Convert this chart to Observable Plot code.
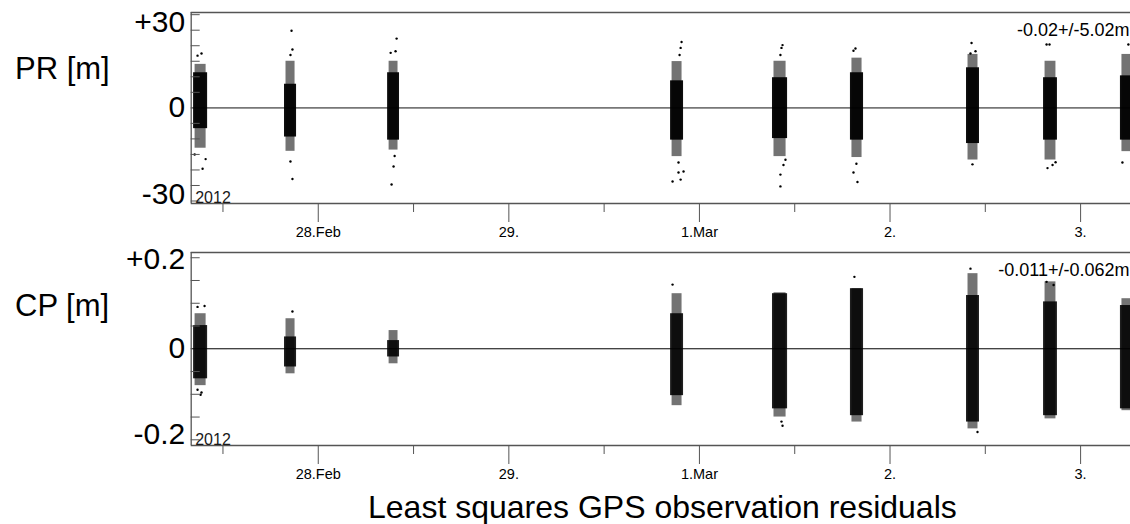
<!DOCTYPE html>
<html>
<head>
<meta charset="utf-8">
<script src="https://cdn.jsdelivr.net/npm/d3@7"></script>
<script src="https://cdn.jsdelivr.net/npm/@observablehq/plot@0.6"></script>
<style>
  body { margin: 0; background: #fff; font-family: "Liberation Sans", Arial, sans-serif; }
  #wrap { position: relative; width: 1130px; height: 524px; overflow: hidden; background: #fff; }
  .panel { position: absolute; left: 0; }
  .ylab { position: absolute; left: 15px; font-size: 31px; line-height: 35px; white-space: nowrap; color: #000; }
  #title { position: absolute; left: 368px; top: 489px; font-size: 32px; line-height: 36px; white-space: nowrap; color: #000; }
</style>
</head>
<body>
<div id="wrap">
  <div class="panel" id="top" style="top:0px"></div>
  <div class="panel" id="bottom" style="top:240px"></div>
  <div class="ylab" style="top:51px">PR [m]</div>
  <div class="ylab" style="top:288px">CP [m]</div>
  <div id="title">Least squares GPS observation residuals</div>
</div>
<script>
// ---- time axis ----
const xDomain = ["2012-02-27T08:00Z", "2012-03-03T06:17Z"];
const majorTicks = ["2012-02-28T00:00Z", "2012-02-29T00:00Z", "2012-03-01T00:00Z", "2012-03-02T00:00Z", "2012-03-03T00:00Z"];
const majorLabels = ["28.Feb", "29.", "1.Mar", "2.", "3."];
const minorTicks = ["2012-02-27T12:00Z", "2012-02-28T12:00Z", "2012-02-29T12:00Z", "2012-03-01T12:00Z", "2012-03-02T12:00Z"];
const yearLabel = "2012";

// ---- satellite passes (observation windows) ----
const passStart = ["2012-02-27T08:18Z", "2012-02-27T19:45Z", "2012-02-28T08:44Z", "2012-02-29T20:22Z", "2012-03-01T09:12Z", "2012-03-01T19:01Z", "2012-03-02T09:38Z", "2012-03-02T19:20Z", "2012-03-03T05:01Z"];
const passEnd   = ["2012-02-27T10:04Z", "2012-02-27T21:16Z", "2012-02-28T10:14Z", "2012-02-29T22:00Z", "2012-03-01T11:06Z", "2012-03-01T20:40Z", "2012-03-02T11:16Z", "2012-03-02T21:05Z", "2012-03-03T06:47Z"];

// ---- pseudorange (PR) residuals, metres ----
const prDomain = [-30.8, 30.7];
const prTicks = [-30, -25, -20, -15, -10, -5, 5, 10, 15, 20, 25, 30];
const prLabelValues = [30, 0, -30];
const prLabelTexts = ["+30", "0", "-30"];
const prStat = "-0.02+/-5.02m";
const prCoreLow  = [-6.7, -9.4, -10.4, -10.4, -9.9, -10.4, -11.5, -10.4, -10.4];
const prCoreHigh = [11.3, 7.6, 11.3, 8.7, 9.7, 11.3, 12.9, 9.7, 10.3];
const prTailLow  = [-13, -14, -13.6, -15.7, -15.7, -16, -16.8, -16.8, -14.1];
const prTailHigh = [14, 15, 15, 14.9, 15, 16, 17.2, 15, 17.2];
const prOutPass   = [0,0,0,0,0, 1,1,1,1,1, 2,2,2,2,2,2, 3,3,3,3,3,3,3,3, 4,4,4,4,4,4,4, 5,5,5,5,5, 6,6,6,6, 7,7,7,7,7, 8,8];
const prOutMinute = [60,30,91,68,8, 53,60,45,60,45, 68,23,60,45,30,53, 83,76,68,15,76,60,98,60, 76,68,60,60,60,83,98, 38,23,23,53,45, 38,68,30,45, 23,45,30,68,91, 15,60];
const prOutValue  = [17.5,16.8,-16.5,-19.6,-15, 24.8,18.8,17,-22.9,-17.3, 22.3,17.7,18.2,-18.9,-24.7,-15.5, 21.2,19.3,17,-23.7,-23.1,-20.8,-20.5,-17.6, 20.2,19.3,17,-25.3,-21.5,-18.4,-16.7, 19.1,18.4,-20.8,-23.9,-18, 20.9,18.2,17.5,-18.2, 20.4,20.4,-19.4,-18.4,-17.5, -17.6,20.4];

// ---- carrier phase (CP) residuals, metres ----
const cpDomain = [-0.2125, 0.2115];
const cpTicks = [-0.2, -0.15, -0.1, -0.05, 0.05, 0.1, 0.15, 0.2];
const cpLabelValues = [0.2, 0, -0.2];
const cpLabelTexts = ["+0.2", "0", "-0.2"];
const cpStat = "-0.011+/-0.062m";
const cpCoreLow  = [-0.066, -0.040, -0.018, -0.103, -0.132, -0.147, -0.161, -0.147, -0.132];
const cpCoreHigh = [0.051, 0.026, 0.018, 0.077, 0.121, 0.132, 0.117, 0.103, 0.095];
const cpTailLow  = [-0.081, -0.055, -0.033, -0.125, -0.150, -0.161, -0.176, -0.154, -0.136];
const cpTailHigh = [0.077, 0.066, 0.040, 0.121, 0.123, 0.132, 0.165, 0.147, 0.110];
const cpOutPass   = [0,0,0,0,0, 1, 3, 4,4, 5, 6,6, 7,7];
const cpOutMinute = [30,83,30,53,60, 60, 15, 68,76, 30, 83,30, 23,76];
const cpOutValue  = [0.092,0.094,-0.090,-0.101,-0.096, 0.082, 0.141, -0.160,-0.169, 0.158, -0.183,0.176, 0.147,0.14];

// ---- build tables ----
const passes = (low, high, tlow, thigh) => passStart.map((s, i) => ({
  start: new Date(s), end: new Date(passEnd[i]),
  coreLow: low[i], coreHigh: high[i], tailLow: tlow[i], tailHigh: thigh[i]
}));
const outliers = (p, m, v) => p.map((pi, i) => ({
  time: new Date(new Date(passStart[pi]).getTime() + m[i] * 60000), value: v[i]
}));
const labelByTime = new Map(majorTicks.map((t, i) => [+new Date(t), majorLabels[i]]));

function panel({passData, outData, domain, ticks, labelValues, labelTexts, labelOffsets, stat, zeroStroke, zeroWidth, coreOpacity, marginBottom}) {
  const xd = xDomain.map(d => new Date(d));
  return Plot.plot({
    width: 1130, height: 240,
    marginLeft: 190.7, marginRight: 0, marginTop: 12, marginBottom,
    style: {fontFamily: "Liberation Sans, Arial, sans-serif", fontSize: "14.5px", color: "#000", background: "#fff", overflow: "visible"},
    x: {type: "utc", domain: xd},
    y: {domain},
    marks: [
      Plot.ruleY([0], {stroke: zeroStroke, strokeWidth: zeroWidth}),
      // tail (sparser) part of each pass
      Plot.rect(passData, {x1: "start", x2: "end", y1: "tailLow", y2: "tailHigh", fill: "#000", fillOpacity: 0.55, insetLeft: 1.5, insetRight: 1.5, clip: true}),
      // dense core
      Plot.rect(passData, {x1: "start", x2: "end", y1: "coreLow", y2: "coreHigh", fill: "#000", fillOpacity: coreOpacity, clip: true}),
      Plot.dot(outData, {x: "time", y: "value", r: 1.2, fill: "#000", stroke: null, clip: true}),
      // frame (top, bottom, left)
      Plot.ruleY([domain[1]], {stroke: "#555", strokeWidth: 1.3}),
      Plot.ruleY([domain[0]], {stroke: "#555", strokeWidth: 1.3}),
      Plot.ruleX([xd[0]], {stroke: "#555", strokeWidth: 1.3}),
      // inward y ticks
      Plot.axisY({ticks, tickSize: 9, dx: 9, tickFormat: () => "", stroke: "#555", label: null}),
      // x ticks
      Plot.axisX({ticks: majorTicks.map(d => new Date(d)), tickSize: 19, tickPadding: 4, tickFormat: d => labelByTime.get(+d), stroke: "#555", fill: "#000", fontSize: 14.5, label: null}),
      Plot.axisX({ticks: minorTicks.map(d => new Date(d)), tickSize: 9, tickFormat: () => "", stroke: "#555", label: null}),
      // y labels
      ...labelValues.map((v, i) => Plot.text([v], {y: d => d, text: () => labelTexts[i], frameAnchor: "left", textAnchor: "end", dx: -6, dy: labelOffsets[i], fontSize: 30, fill: "#000"})),
      Plot.text([yearLabel], {text: d => d, frameAnchor: "bottom-left", textAnchor: "start", lineAnchor: "bottom", dx: 4, dy: -1, fontSize: 16, fill: "#1a1a1a"}),
      Plot.text([stat], {text: d => d, frameAnchor: "top-right", textAnchor: "end", lineAnchor: "middle", dx: -1, dy: 18, fontSize: 18, fill: "#000"})
    ]
  });
}

document.getElementById("top").append(panel({
  passData: passes(prCoreLow, prCoreHigh, prTailLow, prTailHigh),
  outData: outliers(prOutPass, prOutMinute, prOutValue),
  domain: prDomain, ticks: prTicks,
  labelValues: prLabelValues, labelTexts: prLabelTexts, labelOffsets: [8, 0, -7],
  stat: prStat, zeroStroke: "#777", zeroWidth: 1.6, coreOpacity: 0.95, marginBottom: 37
}));
document.getElementById("bottom").append(panel({
  passData: passes(cpCoreLow, cpCoreHigh, cpTailLow, cpTailHigh),
  outData: outliers(cpOutPass, cpOutMinute, cpOutValue),
  domain: cpDomain, ticks: cpTicks,
  labelValues: cpLabelValues, labelTexts: cpLabelTexts, labelOffsets: [1.5, 0, -5],
  stat: cpStat, zeroStroke: "#000", zeroWidth: 1, coreOpacity: 0.88, marginBottom: 35
}));
</script>
</body>
</html>
